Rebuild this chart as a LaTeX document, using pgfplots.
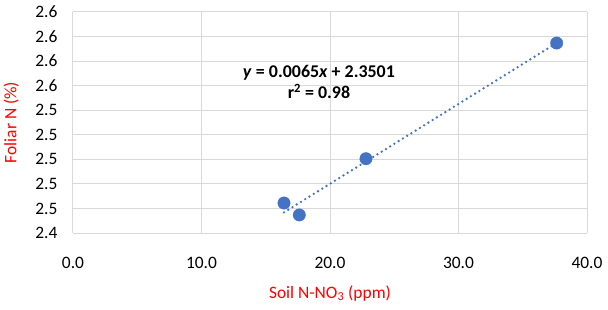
\documentclass[border=0pt]{standalone}
\usepackage{fontspec}
\setmainfont{Carlito}
\usepackage{pgfplots}
\pgfplotsset{compat=1.18}
\definecolor{exblue}{HTML}{4472C4}
\definecolor{gridgray}{HTML}{D9D9D9}
\begin{document}
\begin{tikzpicture}
\begin{axis}[
  name=ax,
  scale only axis,
  width=514bp, height=221bp,
  xmin=0, xmax=40, ymin=2.44, ymax=2.62,
  xtick={0,10,20,30,40},
  ytick={2.44,2.46,2.48,2.50,2.52,2.54,2.56,2.58,2.60,2.62},
  grid=major,
  major grid style={gridgray, line width=1bp},
  axis line style={draw=none},
  tick style={draw=none},
  /pgf/number format/assume math mode=true,
  /pgf/number format/fixed,
  /pgf/number format/fixed zerofill,
  /pgf/number format/precision=1,
  x tick label style={font=\fontsize{17.5}{20}\selectfont, anchor=north, yshift=-21bp},
  y tick label style={font=\fontsize{17.5}{20}\selectfont, anchor=east, xshift=-12bp},
  xlabel={Soil N-NO\textsubscript{3} (ppm)},
  ylabel={Foliar N (\%)},
  x label style={font=\fontsize{17.5}{20}\selectfont, text=red, at={(axis description cs:0.5,-0.272)}, anchor=center},
  y label style={font=\fontsize{17.5}{20}\selectfont, text=red, at={(axis description cs:-0.12,0.5)}, anchor=center},
  clip=false,
]
\addplot[exblue, line width=2.6bp, line cap=round, dash pattern=on 0pt off 5bp] coordinates {(16.42,2.4568) (37.64,2.5948)};
\addplot[only marks, mark=*, mark size=6.2bp, mark options={fill=exblue, draw=exblue}] coordinates {
(16.42,2.4644) (17.61,2.4547) (22.80,2.5005) (37.64,2.5947)};
\node[align=center, font=\fontsize{18}{21}\selectfont\bfseries] at (axis cs:19.14,2.5628)
  {\textit{y} = 0.0065\textit{x} + 2.3501\\r\textsuperscript{2} = 0.98};
\end{axis}
\pgfresetboundingbox
\path ([xshift=-73bp,yshift=-77bp]ax.south west) rectangle ([xshift=21bp,yshift=12bp]ax.north east);
\end{tikzpicture}
\end{document}
